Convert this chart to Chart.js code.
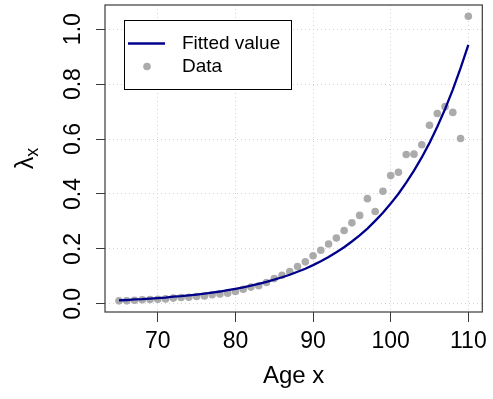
<!DOCTYPE html>
<html>
<head>
<meta charset="utf-8">
<script src="https://cdn.jsdelivr.net/npm/chart.js@4.4.1/dist/chart.umd.min.js"></script>
<style>
html,body{margin:0;padding:0;background:#fff;}
#c{display:block;}
</style>
</head>
<body>
<canvas id="c" width="493" height="399"></canvas>
<script>
// ---- data ----
const ages = [65,66,67,68,69,70,71,72,73,74,75,76,77,78,79,80,81,82,83,84,85,86,87,88,89,90,91,92,93,94,95,96,97,98,99,100,101,102,103,104,105,106,107,108,109,110];
const observed = [0.011,0.011,0.013,0.015,0.016,0.017,0.018,0.021,0.023,0.024,0.027,0.029,0.033,0.036,0.039,0.045,0.053,0.061,0.066,0.078,0.092,0.104,0.118,0.136,0.153,0.175,0.195,0.218,0.240,0.267,0.295,0.322,0.383,0.336,0.410,0.467,0.479,0.544,0.545,0.579,0.650,0.693,0.718,0.697,0.602,1.047];
const fitted = [0.013,0.014,0.016,0.017,0.019,0.021,0.023,0.026,0.028,0.031,0.034,0.037,0.041,0.045,0.050,0.055,0.060,0.066,0.073,0.080,0.088,0.097,0.106,0.117,0.128,0.141,0.155,0.171,0.188,0.206,0.227,0.249,0.274,0.302,0.332,0.365,0.401,0.441,0.485,0.533,0.586,0.645,0.709,0.780,0.858,0.943];
const xTicks = [70,80,90,100,110];
const yTicks = [0.0,0.2,0.4,0.6,0.8,1.0];
const seriesNames = ['Fitted value','Data'];
const xTitle = 'Age x';

const FONT = '"Liberation Sans", Arial, Helvetica, sans-serif';
const LINE_COL = '#00008B';
const PT_COL = '#ABABAB';
const AXIS_COL = '#3a3a3a';

const rPlot = {
  id: 'rPlot',
  afterDraw(chart) {
    const {ctx, chartArea: a, scales} = chart;
    ctx.save();
    // plot box
    ctx.strokeStyle = AXIS_COL;
    ctx.lineWidth = 1.2;
    ctx.strokeRect(a.left, a.top, a.right - a.left, a.bottom - a.top);
    // rotated y tick labels
    ctx.fillStyle = '#000';
    ctx.font = '23px ' + FONT;
    ctx.textAlign = 'center';
    ctx.textBaseline = 'middle';
    yTicks.forEach(v => {
      const py = scales.y.getPixelForValue(v);
      ctx.save();
      ctx.translate(74, py);
      ctx.rotate(-Math.PI / 2);
      ctx.fillText(v.toFixed(1), 0, 0);
      ctx.restore();
    });
    // y title: lambda with subscript x
    const cy = (a.top + a.bottom) / 2;
    ctx.save();
    ctx.translate(33, cy);
    ctx.rotate(-Math.PI / 2);
    ctx.textAlign = 'left';
    ctx.textBaseline = 'alphabetic';
    ctx.font = '25px ' + FONT;
    const w1 = ctx.measureText('λ').width;
    ctx.font = '18px ' + FONT;
    const w2 = ctx.measureText('x').width;
    const start = -(w1 + w2) / 2;
    ctx.font = '25px ' + FONT;
    ctx.fillText('λ', start, 0);
    ctx.font = '18px ' + FONT;
    ctx.fillText('x', start + w1, 5);
    ctx.restore();
    // legend
    const lx = 124, ly = 20, lw = 167, lh = 69;
    ctx.fillStyle = '#fff';
    ctx.fillRect(lx, ly, lw, lh);
    ctx.strokeStyle = '#000';
    ctx.lineWidth = 1;
    ctx.strokeRect(lx + 0.5, ly + 0.5, lw, lh);
    ctx.strokeStyle = LINE_COL;
    ctx.lineWidth = 2.3;
    ctx.beginPath();
    ctx.moveTo(128, 43.5);
    ctx.lineTo(165, 43.5);
    ctx.stroke();
    ctx.fillStyle = PT_COL;
    ctx.beginPath();
    ctx.arc(147, 66.5, 3.8, 0, Math.PI * 2);
    ctx.fill();
    ctx.fillStyle = '#000';
    ctx.font = '19px ' + FONT;
    ctx.textAlign = 'left';
    ctx.textBaseline = 'middle';
    ctx.fillText(seriesNames[0], 182, 44);
    ctx.fillText(seriesNames[1], 182, 67);
    ctx.restore();
  }
};

new Chart(document.getElementById('c'), {
  type: 'scatter',
  data: {
    datasets: [
      {
        label: seriesNames[0],
        type: 'line',
        data: ages.map((x, i) => ({x: x, y: fitted[i]})),
        borderColor: LINE_COL,
        borderWidth: 2.3,
        pointRadius: 0,
        fill: false,
        tension: 0
      },
      {
        label: seriesNames[1],
        data: ages.map((x, i) => ({x: x, y: observed[i]})),
        backgroundColor: PT_COL,
        borderWidth: 0,
        pointRadius: 3.8,
        pointHoverRadius: 3.8
      }
    ]
  },
  options: {
    responsive: false,
    animation: false,
    devicePixelRatio: 1,
    layout: {padding: {top: 5, right: 9, left: 0, bottom: 0}},
    plugins: {legend: {display: false}, tooltip: {enabled: false}},
    scales: {
      x: {
        type: 'linear',
        min: 63.2,
        max: 111.8,
        afterBuildTicks: s => { s.ticks = xTicks.map(v => ({value: v})); },
        afterFit: s => { s.height = 87; },
        grid: {color: '#D3D3D3', lineWidth: 1, tickLength: 10, tickColor: AXIS_COL, tickWidth: 1},
        border: {display: false, dash: [1, 3]},
        ticks: {color: '#000', font: {family: FONT, size: 23}, padding: 6, maxRotation: 0, callback: v => String(v)},
        title: {display: true, text: xTitle, color: '#000', font: {family: FONT, size: 24}, padding: {top: 0, bottom: 8}}
      },
      y: {
        type: 'linear',
        min: -0.0296,
        max: 1.088,
        afterBuildTicks: s => { s.ticks = yTicks.map(v => ({value: v})); },
        afterFit: s => { s.width = 105; },
        grid: {color: '#D3D3D3', lineWidth: 1, tickLength: 9, tickColor: AXIS_COL, tickWidth: 1},
        border: {display: false, dash: [1, 3]},
        ticks: {display: false}
      }
    }
  },
  plugins: [rPlot]
});
</script>
</body>
</html>
